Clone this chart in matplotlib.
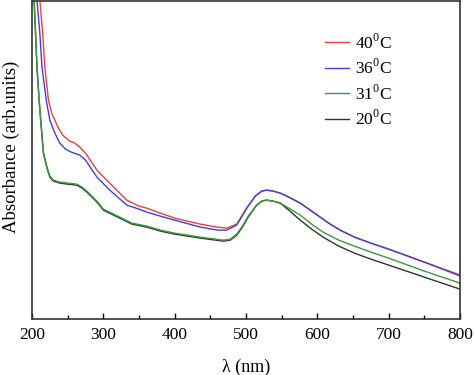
import matplotlib.pyplot as plt
import numpy as np

plt.rcParams['font.family'] = ['Liberation Serif', 'DejaVu Serif']
plt.rcParams['mathtext.fontset'] = 'custom'
plt.rcParams['mathtext.rm'] = 'Liberation Serif'

# wavelength (nm) / absorbance (arb. units)
wl_40 = [205, 211, 215, 218, 223, 228, 232, 237, 243, 253, 260, 267, 275, 291, 309, 333, 350, 361,
         380, 400, 436, 460, 473, 487, 501, 513, 522, 529, 538, 548, 560, 576, 590, 604, 618, 632,
         652, 675, 700, 750, 800]
abs_40 = [3.60, 3.19, 2.86, 2.52, 2.19, 2.05, 1.99, 1.91, 1.84, 1.78, 1.76, 1.72, 1.66, 1.49, 1.36,
          1.19, 1.13, 1.11, 1.06, 1.01, 0.95, 0.92, 0.91, 0.95, 1.11, 1.23, 1.28, 1.29, 1.28, 1.26,
          1.22, 1.16, 1.09, 1.02, 0.95, 0.89, 0.82, 0.76, 0.70, 0.57, 0.43]

wl_36 = [205, 207, 211, 214, 220, 225, 232, 239, 247, 255, 267, 275, 291, 309, 333, 350, 361, 380,
         400, 436, 460, 473, 487, 501, 513, 522, 529, 538, 548, 560, 576, 590, 604, 618, 632, 652,
         675, 700, 750, 800]
abs_36 = [3.30, 3.19, 2.86, 2.52, 2.19, 1.99, 1.86, 1.76, 1.70, 1.67, 1.64, 1.59, 1.42, 1.29, 1.14,
          1.10, 1.07, 1.03, 0.99, 0.92, 0.89, 0.89, 0.94, 1.11, 1.23, 1.28, 1.29, 1.28, 1.26, 1.22,
          1.16, 1.09, 1.02, 0.95, 0.89, 0.82, 0.76, 0.70, 0.57, 0.44]

wl_31 = [201, 203, 207, 210, 213, 216, 221, 225, 230, 239, 250, 263, 270, 277, 291, 300, 323, 340,
         361, 380, 400, 436, 468, 478, 487, 495, 503, 515, 522, 529, 538, 548, 560, 576, 592, 608,
         630, 652, 675, 700, 750, 800]
abs_31 = [3.40, 3.19, 2.52, 2.19, 1.92, 1.67, 1.52, 1.43, 1.39, 1.37, 1.36, 1.35, 1.32, 1.28, 1.18,
          1.10, 1.02, 0.96, 0.93, 0.89, 0.86, 0.82, 0.79, 0.80, 0.85, 0.93, 1.03, 1.14, 1.18, 1.19,
          1.18, 1.16, 1.11, 1.04, 0.95, 0.87, 0.79, 0.73, 0.67, 0.61, 0.48, 0.36]

wl_20 = [201, 203, 207, 210, 213, 216, 221, 225, 230, 239, 250, 263, 270, 277, 291, 300, 323, 340,
         361, 380, 400, 436, 468, 478, 487, 495, 503, 515, 522, 529, 538, 548, 560, 576, 592, 608,
         630, 652, 675, 700, 750, 800]
abs_20 = [3.40, 3.19, 2.52, 2.19, 1.92, 1.66, 1.51, 1.42, 1.38, 1.36, 1.35, 1.34, 1.31, 1.27, 1.17,
          1.09, 1.01, 0.95, 0.92, 0.88, 0.85, 0.81, 0.78, 0.79, 0.84, 0.92, 1.02, 1.14, 1.18, 1.19,
          1.18, 1.16, 1.09, 0.99, 0.90, 0.82, 0.73, 0.66, 0.60, 0.54, 0.42, 0.30]

labels = ['40$^0$C', '36$^0$C', '31$^0$C', '20$^0$C']

fig = plt.figure(figsize=(4.74, 3.75), dpi=100)
ax = fig.add_axes([0.0675, 0.149, 0.903, 0.848])

l20, = ax.plot(wl_20, abs_20, color='#333333', lw=1.0)
l31, = ax.plot(wl_31, abs_31, color='#3a9a3a', lw=1.0)
l40, = ax.plot(wl_40, abs_40, color='#e8403a', lw=1.0)
l36, = ax.plot(wl_36, abs_36, color='#4040d8', lw=1.0)

ax.set_xlim(200, 800)
ax.set_ylim(0, 3.18)
ax.set_xticks(np.arange(200, 801, 100))
ax.set_xticks(np.arange(250, 800, 100), minor=True)
ax.set_yticks([])
ax.tick_params(axis='x', which='major', direction='in', length=4, width=1, labelsize=12.5, pad=6)
ax.tick_params(axis='x', which='minor', direction='in', length=3, width=1)
for sp in ax.spines.values():
    sp.set_linewidth(1.2)
    sp.set_color('#333333')

ax.set_xlabel('λ (nm)', fontsize=13, labelpad=11)
ax.set_ylabel('Absorbance (arb.units)', fontsize=13.5)
ax.yaxis.set_label_coords(-0.027, 0.541)

ax.legend([l40, l36, l31, l20], labels, loc='upper left', bbox_to_anchor=(0.685, 0.899),
          frameon=False, fontsize=12.5, handlelength=1.4, handletextpad=0.3,
          labelspacing=0.35, borderpad=0, borderaxespad=0)

fig.savefig('out.png', dpi=100)
